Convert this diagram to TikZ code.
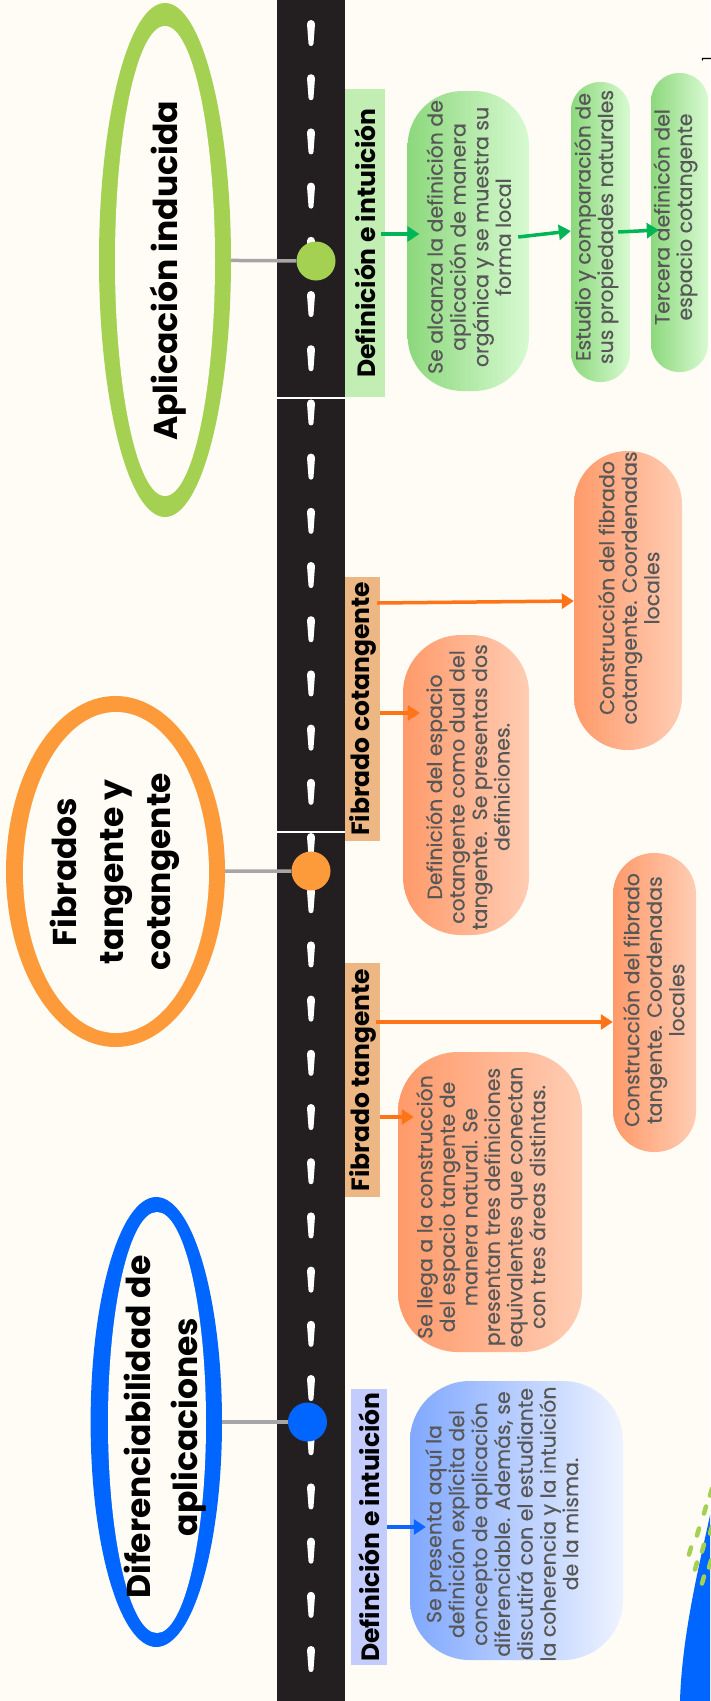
\documentclass[tikz,border=0pt]{standalone}
\usepackage{fontspec}
\setmainfont{Poppins}
\newfontfamily\cardfont[FakeBold=0.35]{Poppins}
\usepackage{graphicx}
\usetikzlibrary{shapes.geometric,arrows.meta}
\definecolor{paper}{HTML}{FFFBF5}
\definecolor{road}{HTML}{231F20}
\definecolor{lime}{HTML}{A5D152}
\definecolor{tang}{HTML}{FD9B3A}
\definecolor{royal}{HTML}{0066FF}
\definecolor{stemgray}{HTML}{A6A6A6}
\definecolor{gtag}{HTML}{C2EDB3}
\definecolor{otag}{HTML}{EDB784}
\definecolor{btag}{HTML}{C4CCFE}
\definecolor{garrow}{HTML}{00B556}
\definecolor{oarrow}{HTML}{FF7417}
\definecolor{barrow}{HTML}{0A66FF}
\definecolor{boxtext}{HTML}{575757}
\definecolor{gL}{HTML}{8CD87C}
\definecolor{gR}{HTML}{D8FAD2}
\definecolor{oL}{HTML}{FF9A6A}
\definecolor{oR}{HTML}{FFCDB4}
\definecolor{bL}{HTML}{80A8FF}
\definecolor{bR}{HTML}{EEF3FF}
\newcommand\vlines[1]{\rotatebox{90}{\begin{tabular}{@{}c@{}}#1\end{tabular}}}

\begin{document}
\begin{tikzpicture}[x=1pt,y=-1pt,
  ring/.style={ellipse, inner sep=0pt, fill=#1},
  hole/.style={ellipse, inner sep=0pt, fill=paper},
  stop/.style={circle, inner sep=0pt, minimum size=39pt, fill=#1},
  stemline/.style={draw=stemgray, line width=3.5pt},
  tag/.style={rectangle, inner sep=0pt, fill=#1, text=black,
    font=\bfseries\fontsize{25}{30}\selectfont},
  card/.style={rectangle, inner sep=0pt, left color=#1L, right color=#1R},
  cardtext/.style={inner sep=0pt, text=boxtext, font=\cardfont\fontsize{20.5}{22.5}\selectfont},
  title/.style={inner sep=0pt, text=black, font=\bfseries\fontsize{33}{47}\selectfont},
  arr/.style={line width=3.5pt, -{Triangle[length=12pt,width=15pt]}}]

% page and road
\useasboundingbox (0,0) rectangle (710,1701);
\fill[paper] (0,0) rectangle (710,1701);
\fill[road] (277,0) rectangle (345,1701);
\foreach \k in {0,...,30}{
  \pgfmathsetmacro\yy{20+54.2*\k}
  \fill[white] (307,\yy+4) arc[start angle=180,end angle=360,radius=4]
    -- (313.5,\yy+23.5) arc[start angle=0,end angle=180,radius=2.5] -- cycle;
}
\draw[white, line width=1.5pt] (277,398) -- (345,398);
\draw[white, line width=1.5pt] (277,832) -- (345,832);

% corner decoration
\fill[royal] (710,1515) .. controls (703,1550) and (682,1630) .. (680,1701) -- (710,1701) -- cycle;
\foreach \px/\py in {705/1510,698/1532,690/1551,703/1548,696/1566,703/1580,711/1492,711/1530,710/1564}
  \draw[lime, line width=4.5pt, line cap=round] (\px-1,\py+3.5) -- (\px+1,\py-3.5);

% title rings
\node[ring=lime, minimum width=132pt, minimum height=514pt] (ellA) at (165,260) {};
\node[hole, minimum width=100pt, minimum height=470pt] (ellAin) at (165,261) {};
\node[ring=tang, minimum width=219pt, minimum height=351pt] (ellB) at (115.5,871.5) {};
\node[hole, minimum width=186pt, minimum height=321pt] (ellBin) at (116,872.5) {};
\node[ring=royal, minimum width=131.4pt, minimum height=450pt] (ellC) at (156.3,1422) {};
\node[hole, minimum width=98pt, minimum height=421pt] (ellCin) at (157,1422.5) {};

\node[title] (ttlA) at (168,271) {\vlines{Aplicación inducida}};
\node[title] (ttlB) at (114,872) {\vlines{Fibrados\\tangente y\\cotangente}};
\node[title] (ttlC) at (165,1427) {\vlines{Diferenciabilidad de\\aplicaciones}};

% stops on the road
\node[stop=lime] (dotA) at (316,261) {};
\node[stop=tang] (dotB) at (311,871) {};
\node[stop=royal] (dotC) at (307.5,1422) {};
\draw[stemline] (ellA) -- (dotA);
\draw[stemline] (ellB) -- (dotB);
\draw[stemline] (ellC) -- (dotC);

% section tags
\node[tag=gtag, minimum width=40pt, minimum height=308pt] (tagA) at (365,243) {\rotatebox{90}{Definición e intuición}};
\node[tag=otag, minimum width=35pt, minimum height=264pt] (tagC) at (362.5,709) {\rotatebox{90}{Fibrado cotangente}};
\node[tag=otag, minimum width=35pt, minimum height=234pt] (tagT) at (362.5,1080) {\rotatebox{90}{Fibrado tangente}};
\node[tag=btag, minimum width=36pt, minimum height=276pt] (tagB) at (369,1527) {\rotatebox{90}{Definición e intuición}};

% cards
\node[card=g, rounded corners=55pt, minimum width=121.4pt, minimum height=300pt] (g1) at (468.3,241) {};
\node[card=g, rounded corners=29pt, minimum width=59pt, minimum height=300pt] (g2) at (600.5,232) {};
\node[card=g, rounded corners=28pt, minimum width=57pt, minimum height=299pt] (g3) at (679.5,222.5) {};
\node[card=o, rounded corners=58pt, minimum width=126pt, minimum height=300pt] (oA) at (466,785) {};
\node[card=o, rounded corners=53.5pt, minimum width=108pt, minimum height=299pt] (oB) at (628,600.5) {};
\node[card=o, rounded corners=41pt, minimum width=83pt, minimum height=299pt] (oC) at (654.5,1002.5) {};
\node[card=o, rounded corners=60pt, minimum width=184pt, minimum height=300pt] (oD) at (490,1202) {};
\node[card=b, rounded corners=60pt, minimum width=213pt, minimum height=279pt] (bE) at (516.5,1520.5) {};

\node[cardtext] (g1t) at (472,237) {\vlines{Se alcanza la definición de\\aplicación de manera\\orgánica y se muestra su\\forma local}};
\node[cardtext] (g2t) at (597,227) {\vlines{Estudio y comparación de\\sus propiedades naturales}};
\node[cardtext] (g3t) at (676,217) {\vlines{Tercera definicón del\\espacio cotangente}};
\node[cardtext] (oAt) at (471,787) {\vlines{Definición del espacio\\cotangente como dual del\\tangente.\ \ Se presentas dos\\definiciones.}};
\node[cardtext] (oBt) at (632,588) {\vlines{Construcción del fibrado\\cotangente. Coordenadas\\locales}};
\node[cardtext] (oCt) at (657,1000) {\vlines{Construcción del fibrado\\tangente. Coordenadas\\locales}};
\node[cardtext] (oDt) at (484,1207) {\vlines{Se llega a la construcción\\del espacio tangente de\\manera natural. Se\\presentan tres definiciones\\equivalentes que conectan\\con tres áreas distintas.}};
\node[cardtext] (bEt) at (505,1524) {\vlines{Se presenta aquí la\\definición explícita del\\concepto de aplicación\\diferenciable. Además, se\\discutirá con el estudiante\\la coherencia y la intuición\\de la misma.}};

% arrows
\draw[arr, garrow] ([xshift=-4pt]tagA.east |- 0,234) -- ([xshift=12pt]g1.west |- 0,234);
\draw[arr, garrow] ([xshift=-11pt]g1.east |- 0,237) -- (g2.west |- 0,231);
\draw[arr, garrow] ([xshift=-12pt]g2.east |- 0,232) -- ([xshift=8pt]g3.west |- 0,230);
\draw[arr, oarrow] ([xshift=-3pt]tagC.east |- 0,603) -- (oB.west |- 0,601);
\draw[arr, oarrow] (tagC.east |- 0,713) -- ([xshift=17pt]oA.west |- 0,713);
\draw[arr, oarrow] ([xshift=-4pt]tagT.east |- 0,1022) -- (oC.west |- 0,1022);
\draw[arr, oarrow] (tagT.east |- 0,1117) -- ([xshift=16pt]oD.west |- 0,1117);
\draw[arr, barrow] (tagB.east |- 0,1527) -- ([xshift=16pt]bE.west |- 0,1527);

% page number
\node[inner sep=0pt, font=\fontsize{14}{14}\selectfont] (pgno) at (707,59) {\rotatebox{90}{1}};
\end{tikzpicture}
\end{document}
